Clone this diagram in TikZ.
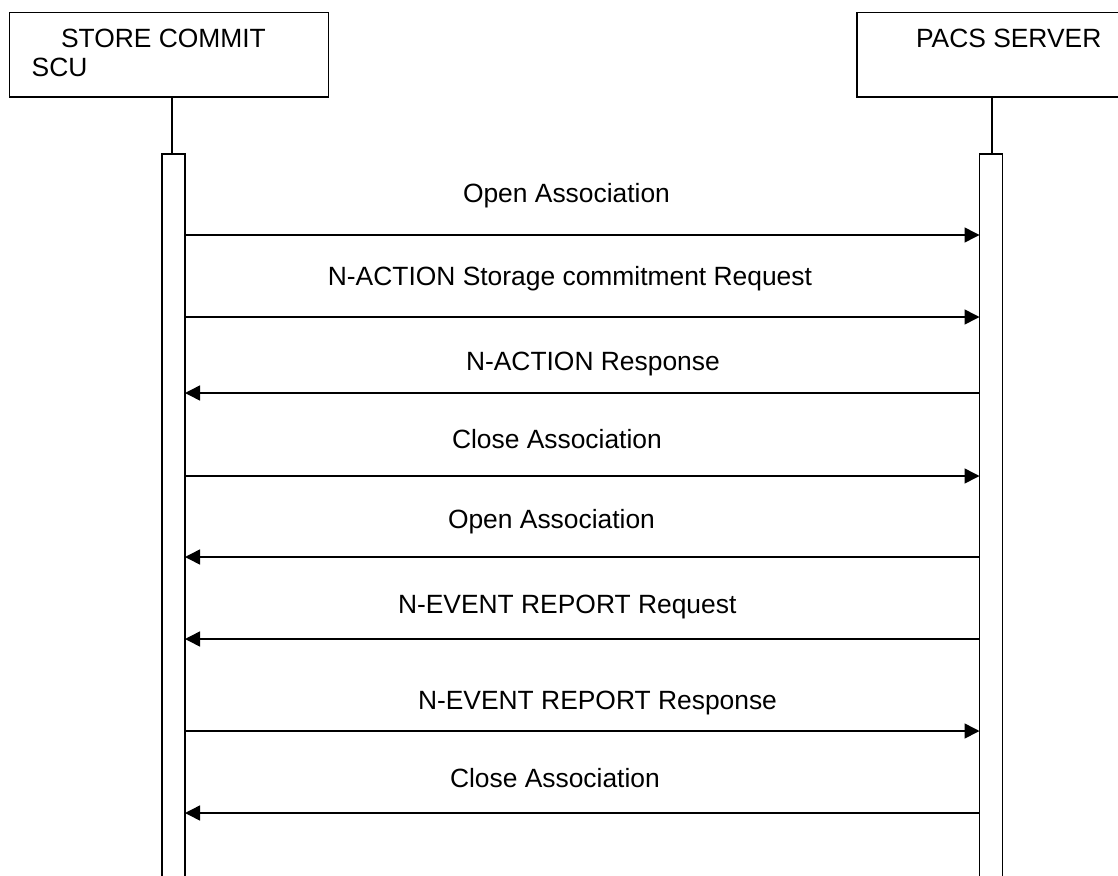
\documentclass[tikz,border=0pt]{standalone}
\usepackage{fontspec}
\setmainfont{Liberation Sans}
\usetikzlibrary{arrows.meta}
\begin{document}
\begin{tikzpicture}[x=1pt,y=-1pt, line width=1.3pt,
  box/.style={draw, rectangle, inner sep=0, outer sep=0, anchor=north west},
  bar/.style={draw, rectangle, inner sep=0, outer sep=0, minimum width=23pt, minimum height=740pt, anchor=north},
  lbl/.style={inner sep=0, outer sep=0, font=\fontsize{26.4}{30}\selectfont},
  msg/.style={line width=1.5pt, -{Triangle[length=15pt,width=15pt]}}]
\useasboundingbox (0,0) rectangle (1118,875);
% participants
\node[box, minimum width=319.4pt, minimum height=84.3pt] (scu) at (9.3,12.7) {};
\node[box, minimum width=300pt, minimum height=84.3pt] (pacs) at (857,12.7) {};
\node[lbl, anchor=base west] (scut1) at (61,47.7) {STORE COMMIT};
\node[lbl, anchor=base west] (scut2) at (31.7,77) {SCU};
\node[lbl, anchor=base west] (pacst) at (916,47.7) {PACS SERVER};
% activation bars
\node[bar] (lbar) at (173.5,154) {};
\node[bar] (rbar) at (991,154) {};
\draw (lbar.north) ++(-1.5,0) coordinate (ltop) -- (ltop |- scu.south);
\draw (rbar.north) ++(1,0) coordinate (rtop) -- (rtop |- pacs.south);
% message rows
\foreach \n/\y in {1/235,2/317,3/393,4/476,5/557,6/639,7/731,8/813}
  \coordinate (y\n) at (0,\y);
\draw[msg] (lbar.east |- y1) -- (rbar.west |- y1);
\draw[msg] (lbar.east |- y2) -- (rbar.west |- y2);
\draw[msg] (rbar.west |- y3) -- (lbar.east |- y3);
\draw[msg] (lbar.east |- y4) -- (rbar.west |- y4);
\draw[msg] (rbar.west |- y5) -- (lbar.east |- y5);
\draw[msg] (rbar.west |- y6) -- (lbar.east |- y6);
\draw[msg] (lbar.east |- y7) -- (rbar.west |- y7);
\draw[msg] (rbar.west |- y8) -- (lbar.east |- y8);
% labels
\node[lbl, anchor=base west] (m1) at (463,202) {Open Association};
\node[lbl, anchor=base east] (m2) at (812,285) {N-ACTION Storage commitment Request};
\node[lbl, anchor=base west] (m3) at (466,370) {N-ACTION Response};
\node[lbl, anchor=base west] (m4) at (452,448) {Close Association};
\node[lbl, anchor=base west] (m5) at (448,528) {Open Association};
\node[lbl, anchor=base west] (m6) at (398,613) {N-EVENT REPORT Request};
\node[lbl, anchor=base west] (m7) at (418,709) {N-EVENT REPORT Response};
\node[lbl, anchor=base west] (m8) at (450,787) {Close Association};
\end{tikzpicture}
\end{document}
